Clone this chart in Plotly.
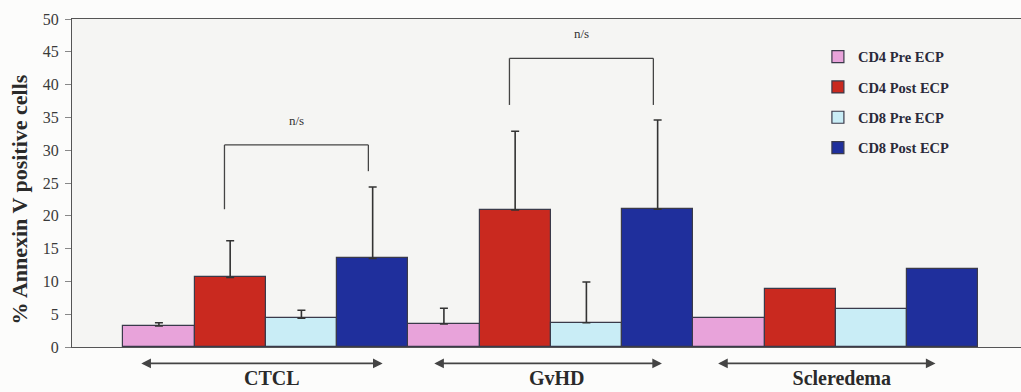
import plotly.graph_objects as go

categories = ["CTCL", "GvHD", "Scleredema"]
series_names = ["CD4 Pre ECP", "CD4 Post ECP", "CD8 Pre ECP", "CD8 Post ECP"]
cd4_pre = [3.2, 3.5, 4.4]
cd4_post = [10.6, 20.9, 8.8]
cd8_pre = [4.4, 3.7, 5.8]
cd8_post = [13.5, 21.0, 11.9]
# upper error extents (no error bar shown for Scleredema)
cd4_pre_err = [0.5, 2.4, None]
cd4_post_err = [5.6, 12.0, None]
cd8_pre_err = [1.2, 6.2, None]
cd8_post_err = [10.9, 13.6, None]

# significance brackets (CD4 Post vs CD8 Post)
sig_groups = [0, 1]
sig_top = [30.8, 44.0]
sig_left_end = [21.0, 36.9]
sig_right_end = [26.8, 36.9]
sig_label = ["n/s", "n/s"]

y_title = "% Annexin V positive cells"

values = [cd4_pre, cd4_post, cd8_pre, cd8_post]
errors = [cd4_pre_err, cd4_post_err, cd8_pre_err, cd8_post_err]
colors = ["#e8a3da", "#c9291f", "#c9edf6", "#1f2f9c"]

SERIF = "Liberation Serif"
xs = list(range(len(categories)))
n = len(series_names)
bw = 1.0 / n


def bar_center(g, s):
    return g + (s - (n - 1) / 2) * bw


fig = go.Figure()
for i, (name, vals, col) in enumerate(zip(series_names, values, colors)):
    fig.add_trace(go.Bar(
        x=xs, y=vals, name=name, legendgroup=name,
        marker=dict(color=col, line=dict(color="#3a3a4a", width=1.2)),
    ))

# error bars (upper only) drawn at bar centres
for i, (name, vals, errs) in enumerate(zip(series_names, values, errors)):
    ex = [bar_center(g, i) for g, e in zip(xs, errs) if e is not None]
    ey = [v for v, e in zip(vals, errs) if e is not None]
    ee = [e for e in errs if e is not None]
    fig.add_trace(go.Scatter(
        x=ex, y=ey, mode="markers", marker=dict(size=1, color="rgba(0,0,0,0)"),
        showlegend=False, hoverinfo="skip", legendgroup=name,
        error_y=dict(type="data", symmetric=False, array=ee, arrayminus=[0] * len(ee),
                     color="#333333", thickness=1.6, width=4),
    ))

shapes = []
annotations = []
for g, top, le, re_, lab in zip(sig_groups, sig_top, sig_left_end, sig_right_end, sig_label):
    xl = bar_center(g, 1) - 0.02
    xr = bar_center(g, 3) - 0.015
    line = dict(color="#444444", width=1.3)
    shapes.append(dict(type="line", xref="x", yref="y", x0=xl, x1=xl, y0=le, y1=top, line=line))
    shapes.append(dict(type="line", xref="x", yref="y", x0=xl, x1=xr, y0=top, y1=top, line=line))
    shapes.append(dict(type="line", xref="x", yref="y", x0=xr, x1=xr, y0=top, y1=re_, line=line))
    annotations.append(dict(x=(xl + xr) / 2, y=top + 3.8, xref="x", yref="y", text=lab,
                            showarrow=False, font=dict(family=SERIF, size=13, color="#333333")))

arrow_left = [-0.442, -0.414, -0.418]
arrow_right = [0.41, 0.39, 0.35]
for g, al, ar in zip(xs, arrow_left, arrow_right):
    annotations.append(dict(x=g + ar, y=-0.05, xref="x", yref="paper",
                            ax=g + al, ay=0, axref="x", ayref="pixel",
                            text="", showarrow=True, arrowhead=2, arrowside="end+start",
                            arrowsize=1.2, arrowwidth=1.6, arrowcolor="#444444"))

# y-axis title (rotated text, centred where the original sits)
plot_w = 1021 - 72
annotations.append(dict(x=(19 - 72) / plot_w, xref="paper", y=0.45, yref="paper", text=y_title,
                        textangle=-90, showarrow=False, xanchor="center", yanchor="middle",
                        font=dict(family=SERIF, size=22, color="#2a2a2a", weight="bold")))

fig.update_layout(
    width=1021, height=392,
    margin=dict(l=72, r=0, t=19, b=45, autoexpand=False),
    paper_bgcolor="#fcfcfb", plot_bgcolor="#f5f5f3",
    barmode="group", bargap=0, bargroupgap=0,
    showlegend=True,
    legend=dict(x=0.786, y=0.934, xanchor="left", yanchor="top",
                bgcolor="rgba(0,0,0,0)", tracegroupgap=8.5,
                font=dict(family=SERIF, size=14.5, color="#2a2a3a", weight="bold"),
                itemwidth=30),
    shapes=shapes, annotations=annotations,
    font=dict(family=SERIF),
)
fig.update_xaxes(range=[-0.68, 2.65], tickvals=xs, ticktext=categories,
                 ticks="", showline=True, linecolor="#555555", linewidth=1.2, mirror=True,
                 ticklabelstandoff=13, ticklabelshift=6, automargin=False,
                 tickfont=dict(family=SERIF, size=20, color="#2a2a2a", weight="bold"),
                 showgrid=False, zeroline=False)
fig.update_yaxes(range=[0, 50], dtick=5, ticks="outside", ticklen=6, tickcolor="#888888",
                 showline=True, linecolor="#555555", linewidth=1.2, automargin=False,
                 ticklabelstandoff=3,
                 tickfont=dict(family=SERIF, size=16, color="#3a3a3a"),
                 showgrid=False, zeroline=False)

fig.write_html("out.html", config={"displayModeBar": False},
               post_script="document.body.style.margin='0';document.body.style.overflow='hidden';")
